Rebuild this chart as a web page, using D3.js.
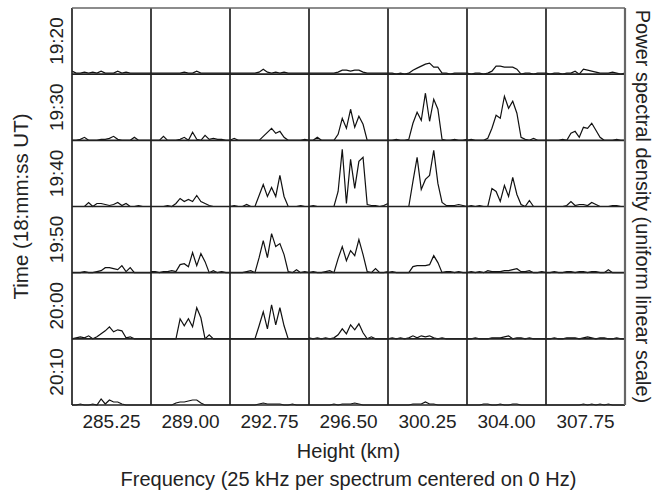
<!DOCTYPE html>
<html>
<head>
<meta charset="utf-8">
<script src="https://cdn.jsdelivr.net/npm/d3@7"></script>
<style>
  body { margin: 0; background: #fff; }
  svg { display: block; font-family: "Liberation Sans", Arial, sans-serif; }
</style>
</head>
<body>
<div id="chart"></div>
<script>
// Column and row labels
const heights = ["285.25", "289.00", "292.75", "296.50", "300.25", "304.00", "307.75"];
const times = ["19:20", "19:30", "19:40", "19:50", "20:00", "20:10"];

// Power spectral density, 20 frequency bins per spectrum (arbitrary linear units)
const psd1920 = [
    [3,1,1,2,1,2,1,3,1,1,1,3,1,2,1,1,1,1,1,1],
    [1,1,1,1,1,1,1,1,2,1,1,3,1,1,1,1,1,1,1,1],
    [1,1,1,1,1,1,1,2,5,2,1,2,1,2,1,1,1,1,1,1],
    [1,1,1,1,1,1,1,2,4,4,3,4,4,2,1,1,1,1,1,1],
    [1,1,0,1,0,1,4,6,8,10,11,7,7,1,1,0,1,1,1,1],
    [1,0,1,1,0,1,3,8,8,7,7,7,5,0,1,1,0,1,1,1],
    [1,0,1,1,0,1,1,3,0,5,4,3,2,1,1,1,2,1,0,1]
];
const psd1930 = [
    [0,0,1,3,0,0,0,1,1,2,4,1,0,0,0,3,0,0,0,0],
    [0,0,0,4,0,0,0,1,3,0,8,1,0,5,1,2,1,1,0,0],
    [0,2,0,0,0,0,0,0,4,8,12,7,9,3,0,0,0,0,1,0],
    [0,0,3,0,0,0,0,6,22,12,31,13,24,16,0,0,0,0,0,0],
    [0,0,1,0,0,1,17,28,20,47,19,41,31,1,0,0,1,0,0,1],
    [0,1,0,0,0,2,12,25,22,44,32,39,27,3,1,0,2,0,0,0],
    [0,0,0,0,1,0,7,9,3,13,12,17,10,3,0,0,0,1,0,0]
];
const psd1940 = [
    [0,0,0,0,4,0,3,3,2,1,2,4,1,3,0,0,1,0,0,0],
    [0,0,0,0,1,0,3,8,5,7,5,11,5,3,1,0,0,0,0,0],
    [0,1,0,0,2,0,0,11,22,10,19,10,31,10,0,0,0,1,0,0],
    [0,1,0,0,0,0,0,15,57,3,47,18,45,49,2,1,1,0,1,3],
    [0,0,0,0,0,0,25,49,17,27,31,56,23,4,1,1,1,2,1,0],
    [0,1,0,1,0,0,18,15,5,21,10,29,12,2,0,6,0,0,0,0],
    [0,0,0,0,0,1,5,1,2,2,1,4,2,0,0,0,1,1,0,0]
];
const psd1950 = [
    [0,0,0,1,0,0,1,2,5,5,4,3,7,1,5,0,0,0,0,0],
    [1,1,0,1,1,2,1,8,9,6,20,7,19,11,0,2,0,1,0,0],
    [0,0,0,0,1,2,0,15,32,15,39,26,29,18,1,0,3,0,1,0],
    [0,1,0,0,1,2,0,14,26,12,22,17,33,18,1,0,4,0,0,1],
    [0,1,0,0,0,0,6,7,7,7,8,17,10,0,1,1,0,1,0,0],
    [0,1,0,1,0,2,1,1,1,2,2,3,4,1,1,2,0,0,1,0],
    [0,0,1,0,0,1,1,0,1,1,0,1,1,0,0,3,0,0,0,0]
];
const psd2000 = [
    [0,1,2,1,3,0,2,5,8,12,7,9,8,1,2,0,0,0,0,0],
    [0,0,0,0,0,0,0,20,13,20,12,31,21,0,4,0,0,0,0,0],
    [0,0,0,0,0,0,0,13,27,10,34,14,31,13,0,0,0,0,0,0],
    [1,0,1,0,1,0,1,4,10,5,14,9,15,6,0,2,0,0,0,0],
    [0,1,0,1,0,1,3,1,3,2,3,1,0,1,0,0,0,0,0,0],
    [0,0,1,0,0,0,1,1,1,2,3,0,1,1,0,1,0,0,0,0],
    [0,0,1,0,0,1,1,1,0,1,2,1,0,1,1,0,0,1,0,0]
];
const psd2010 = [
    [0,0,1,0,0,1,0,6,1,5,3,3,1,0,0,0,0,0,0,0],
    [0,0,0,0,0,0,2,3,3,4,5,5,2,0,0,0,0,0,0,0],
    [0,0,0,0,0,0,0,1,2,1,1,1,1,0,0,1,0,0,0,0],
    [0,0,0,0,0,0,1,0,1,1,1,2,1,0,0,0,0,0,0,0],
    [0,0,0,0,0,0,1,1,1,3,1,1,0,0,0,0,0,0,0,0],
    [0,0,0,0,1,1,0,0,1,0,0,1,1,0,0,0,0,0,0,0],
    [0,0,0,0,0,0,0,0,0,1,0,1,0,1,0,1,0,0,0,0]
];
const spectra = [psd1920, psd1930, psd1940, psd1950, psd2000, psd2010];
const psdMax = 66;

document.addEventListener('DOMContentLoaded', function() {
    const W = 655, H = 496;
    const grid = {left: 72, right: 625, top: 8, bottom: 405};

    const svg = d3.select("#chart")
        .append("svg")
        .attr("width", W)
        .attr("height", H);

    // Scales for the panel grid
    const x = d3.scaleBand().domain(heights).range([grid.left, grid.right]);
    const y = d3.scaleBand().domain(times).range([grid.top, grid.bottom]);

    // Scales inside one panel
    const nBins = psd1920[0].length;
    const fx = d3.scaleLinear().domain([0, nBins - 1]).range([0, x.bandwidth()]);
    const py = d3.scaleLinear().domain([0, psdMax]).range([y.bandwidth(), 0]);

    const line = d3.line()
        .x((d, i) => fx(i))
        .y(d => py(d));

    // Panels
    times.forEach(function(t, r) {
        heights.forEach(function(h, c) {
            const g = svg.append("g")
                .attr("transform", `translate(${x(h)},${y(t)})`);
            g.append("path")
                .datum(spectra[r][c])
                .attr("d", line)
                .attr("fill", "none")
                .attr("stroke", "#111")
                .attr("stroke-width", 1.2)
                .attr("stroke-linejoin", "miter");
        });
    });

    // Row baselines
    svg.selectAll(".baseline")
        .data(times)
        .enter()
        .append("line")
        .attr("class", "baseline")
        .attr("x1", grid.left)
        .attr("x2", grid.right)
        .attr("y1", d => y(d) + y.bandwidth())
        .attr("y2", d => y(d) + y.bandwidth())
        .attr("stroke", "#222")
        .attr("stroke-width", 1.7);

    // Column dividers
    svg.selectAll(".divider")
        .data(heights)
        .enter()
        .append("line")
        .attr("class", "divider")
        .attr("x1", d => x(d))
        .attr("x2", d => x(d))
        .attr("y1", grid.top)
        .attr("y2", grid.bottom)
        .attr("stroke", "#222")
        .attr("stroke-width", 1.7);

    // Top and right border (grey)
    svg.append("line")
        .attr("x1", grid.left).attr("x2", grid.right)
        .attr("y1", grid.top).attr("y2", grid.top)
        .attr("stroke", "#666")
        .attr("stroke-width", 1.5);
    svg.append("line")
        .attr("x1", grid.right).attr("x2", grid.right)
        .attr("y1", grid.top).attr("y2", grid.bottom)
        .attr("stroke", "#666")
        .attr("stroke-width", 2.2);

    // X axis (height labels)
    const xAxis = svg.append("g")
        .attr("transform", `translate(0,${grid.bottom})`)
        .call(d3.axisBottom(x).tickSize(0).tickPadding(10));
    xAxis.select(".domain").remove();
    xAxis.selectAll("text")
        .attr("fill", "#222")
        .style("font-size", "19px")
        .style("font-family", "'Liberation Sans', Arial, sans-serif");

    // Row labels (time), rotated
    svg.selectAll(".time-label")
        .data(times)
        .enter()
        .append("text")
        .attr("class", "time-label")
        .attr("transform", d => `translate(63,${y(d) + y.bandwidth() / 2}) rotate(-90)`)
        .attr("text-anchor", "middle")
        .attr("fill", "#222")
        .style("font-size", "19px")
        .text(d => d);

    // Axis titles
    svg.append("text")
        .attr("transform", `translate(28,${(grid.top + grid.bottom) / 2}) rotate(-90)`)
        .attr("text-anchor", "middle")
        .attr("fill", "#222")
        .style("font-size", "20.5px")
        .text("Time (18:mm:ss UT)");

    svg.append("text")
        .attr("transform", `translate(636,${(grid.top + grid.bottom) / 2}) rotate(90)`)
        .attr("text-anchor", "middle")
        .attr("fill", "#222")
        .style("font-size", "20px")
        .text("Power spectral density (uniform linear scale)");

    svg.append("text")
        .attr("x", (grid.left + grid.right) / 2)
        .attr("y", 458)
        .attr("text-anchor", "middle")
        .attr("fill", "#222")
        .style("font-size", "20px")
        .text("Height (km)");

    svg.append("text")
        .attr("x", (grid.left + grid.right) / 2)
        .attr("y", 486)
        .attr("text-anchor", "middle")
        .attr("fill", "#222")
        .style("font-size", "20px")
        .text("Frequency (25 kHz per spectrum centered on 0 Hz)");
});
</script>
</body>
</html>
